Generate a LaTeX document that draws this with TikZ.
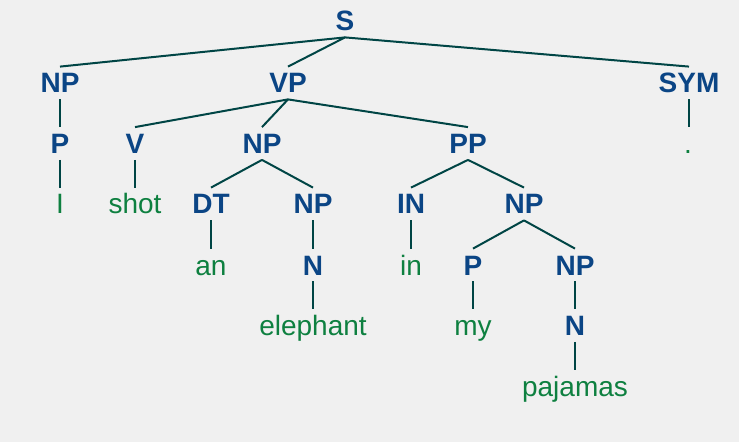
\documentclass[tikz,border=0pt]{standalone}
\usepackage{fontspec}
\setmainfont{Liberation Sans}
\definecolor{bgc}{HTML}{F0F0F0}
\definecolor{labc}{HTML}{0B4585}
\definecolor{wordc}{HTML}{0E8040}
\definecolor{edgec}{HTML}{004545}
\begin{document}
\begin{tikzpicture}[x=0.75pt,y=-0.75pt,
  base/.style={anchor=base, text height=15pt, text depth=0pt, inner xsep=0pt, inner ysep=4.6pt},
  lab/.style={base, font=\fontsize{21}{21}\selectfont\bfseries, text=labc},
  wrd/.style={base, font=\fontsize{21}{21}\selectfont, text=wordc},
  edge/.style={draw=edgec, line width=1.5pt}]
\fill[bgc] (0,0) rectangle (739,442);
\useasboundingbox (0,0) rectangle (739,442);
% row 0
\node[lab] (S) at (345,31) {S};
% row 1
\node[lab] (NP1) at (60,93) {NP};
\node[lab] (VP) at (288,93) {VP};
\node[lab] (SYM) at (689,93) {SYM};
% row 2
\node[lab] (P1) at (60,153.5) {P};
\node[lab] (V) at (135,153.5) {V};
\node[lab] (NP2) at (262,153.5) {NP};
\node[lab] (PP) at (468,153.5) {PP};
\node[wrd] (dot) at (688,153.5) {.};
% row 3
\node[wrd] (I) at (60,214) {I};
\node[wrd] (shot) at (135,214) {shot};
\node[lab] (DT) at (211,214) {DT};
\node[lab] (NP3) at (313,214) {NP};
\node[lab] (IN) at (411,214) {IN};
\node[lab] (NP4) at (524,214) {NP};
% row 4
\node[wrd] (an) at (211,275) {an};
\node[lab] (N1) at (313,275) {N};
\node[wrd] (in) at (411,275) {in};
\node[lab] (P2) at (473,275) {P};
\node[lab] (NP5) at (575,275) {NP};
% row 5
\node[wrd] (elephant) at (313,335.5) {elephant};
\node[wrd] (my) at (473,335.5) {my};
\node[lab] (N2) at (575,335.5) {N};
% row 6
\node[wrd] (pajamas) at (575,396) {pajamas};
% edges
\draw[edge] (S.south) -- (NP1.north);
\draw[edge] (S.south) -- (VP.north);
\draw[edge] (S.south) -- (SYM.north);
\draw[edge] (NP1.south) -- (P1.north);
\draw[edge] (SYM.south) -- (SYM.south |- dot.north);
\draw[edge] (VP.south) -- (V.north);
\draw[edge] (VP.south) -- (NP2.north);
\draw[edge] (VP.south) -- (PP.north);
\draw[edge] (P1.south) -- (I.north);
\draw[edge] (V.south) -- (shot.north);
\draw[edge] (NP2.south) -- (DT.north);
\draw[edge] (NP2.south) -- (NP3.north);
\draw[edge] (PP.south) -- (IN.north);
\draw[edge] (PP.south) -- (NP4.north);
\draw[edge] (DT.south) -- (an.north);
\draw[edge] (NP3.south) -- (N1.north);
\draw[edge] (IN.south) -- (in.north);
\draw[edge] (NP4.south) -- (P2.north);
\draw[edge] (NP4.south) -- (NP5.north);
\draw[edge] (N1.south) -- (elephant.north);
\draw[edge] (P2.south) -- (my.north);
\draw[edge] (NP5.south) -- (N2.north);
\draw[edge] (N2.south) -- (pajamas.north);
\end{tikzpicture}
\end{document}
